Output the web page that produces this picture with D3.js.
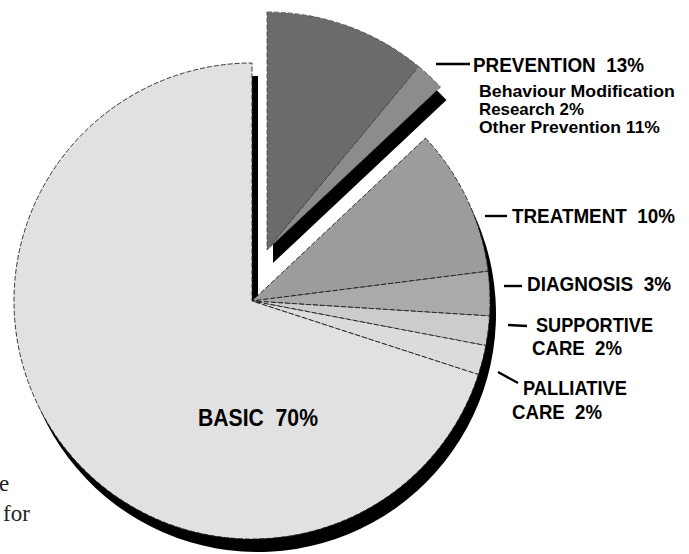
<!DOCTYPE html>
<html>
<head>
<meta charset="utf-8">
<script src="https://cdn.jsdelivr.net/npm/d3@7"></script>
<style>
  html, body { margin: 0; padding: 0; background: #fff; }
  svg { display: block; }
</style>
</head>
<body>
<svg id="chart" width="689" height="554"></svg>
<script>
// ---- data ----
const categories = ["Other Prevention", "Behaviour Modification Research", "Treatment", "Diagnosis", "Supportive Care", "Palliative Care", "Basic"];
const values = [11, 2, 10, 3, 2, 2, 70];
const groups = ["prevention", "prevention", "main", "main", "main", "main", "main"];
const fillsA = ["#646464", "#8a8a8a", "#969696", "#a9a9a9", "#c6c6c6", "#dadada", "#e8e8e8"];
const fillsB = ["#727272", "#8e8e8e", "#a2a2a2", "#ababab", "#d2d2d2", "#dddddd", "#dadada"];

const labelLines = [
  {text: "PREVENTION  13%", size: 19.5, x: 473, y: 72, w: 171},
  {text: "Behaviour Modification", size: 16, x: 479, y: 97, w: 196},
  {text: "Research 2%", size: 16, x: 479, y: 115, w: 105},
  {text: "Other Prevention 11%", size: 16, x: 479, y: 133, w: 181},
  {text: "TREATMENT  10%", size: 20.5, x: 512, y: 223, w: 163},
  {text: "DIAGNOSIS  3%", size: 20.5, x: 527, y: 291, w: 144},
  {text: "SUPPORTIVE", size: 20.5, x: 536, y: 332, w: 117},
  {text: "CARE  2%", size: 20.5, x: 532, y: 355, w: 90},
  {text: "PALLIATIVE", size: 20.5, x: 523, y: 395, w: 104},
  {text: "CARE  2%", size: 20.5, x: 512, y: 419, w: 90},
  {text: "BASIC  70%", size: 23, x: 198, y: 426, w: 120}
];
const leaders = [
  [[436, 64], [470, 64]],
  [[485, 216], [507, 216]],
  [[504, 286], [522, 286]],
  [[508, 325], [527, 326]],
  [[498, 372], [518, 383]]
];
const pageText = [
  {text: "e", x: -1, y: 491},
  {text: "for", x: 3, y: 521}
];

// ---- layout ----
const svg = d3.select("#chart");
const R = 238;
const center = [252, 301];
const explodedCenter = [267, 250];
const shadow = [6, 13];

const defs = svg.append("defs");
values.forEach((v, i) => {
  const p = defs.append("pattern")
    .attr("id", "pat" + i)
    .attr("patternUnits", "userSpaceOnUse")
    .attr("width", 2).attr("height", 2);
  p.append("rect").attr("width", 2).attr("height", 2).attr("fill", fillsA[i]);
  p.append("rect").attr("width", 1).attr("height", 1).attr("fill", fillsB[i]);
  p.append("rect").attr("x", 1).attr("y", 1).attr("width", 1).attr("height", 1).attr("fill", fillsB[i]);
});

const pie = d3.pie().sort(null).value(d => d.value).startAngle(0).endAngle(2 * Math.PI);
const data = categories.map((c, i) => ({name: c, value: values[i], group: groups[i], idx: i}));
const arcs = pie(data);
const arc = d3.arc().innerRadius(0).outerRadius(R);

function groupSpan(g) {
  const a = arcs.filter(d => d.data.group === g);
  return {startAngle: d3.min(a, d => d.startAngle), endAngle: d3.max(a, d => d.endAngle)};
}

// main pie shadow
const mainSpan = groupSpan("main");
svg.append("path")
  .attr("transform", `translate(${center[0] + shadow[0]},${center[1] + shadow[1]})`)
  .attr("d", arc(mainSpan))
  .attr("fill", "#000");

// main pie slices
const gMain = svg.append("g").attr("transform", `translate(${center[0]},${center[1]})`);
gMain.selectAll("path")
  .data(arcs.filter(d => d.data.group === "main"))
  .join("path")
  .attr("d", arc)
  .attr("fill", d => `url(#pat${d.data.idx})`)
  .attr("stroke", "#222")
  .attr("stroke-width", 0.9)
  .attr("stroke-dasharray", "5,2");

// exploded prevention shadow
const prevSpan = groupSpan("prevention");
svg.append("path")
  .attr("transform", `translate(${explodedCenter[0] + shadow[0]},${explodedCenter[1] + shadow[1]})`)
  .attr("d", arc(prevSpan))
  .attr("fill", "#000");

const gPrev = svg.append("g").attr("transform", `translate(${explodedCenter[0]},${explodedCenter[1]})`);
gPrev.selectAll("path")
  .data(arcs.filter(d => d.data.group === "prevention"))
  .join("path")
  .attr("d", arc)
  .attr("fill", d => `url(#pat${d.data.idx})`)
  .attr("stroke", "#444")
  .attr("stroke-width", 0.8)
  .attr("stroke-dasharray", "5,2");

// leader lines
svg.append("g").selectAll("line")
  .data(leaders)
  .join("line")
  .attr("x1", d => d[0][0]).attr("y1", d => d[0][1])
  .attr("x2", d => d[1][0]).attr("y2", d => d[1][1])
  .attr("stroke", "#000")
  .attr("stroke-width", 2.4);

// labels: condensed by horizontal scaling to the width seen in the reference
svg.append("g").selectAll("text")
  .data(labelLines)
  .join("text")
  .attr("x", 0).attr("y", 0)
  .attr("font-family", "'Liberation Sans', Arial, sans-serif")
  .attr("font-weight", "bold")
  .attr("font-size", d => d.size)
  .attr("fill", "#000")
  .style("white-space", "pre")
  .text(d => d.text)
  .each(function(d) {
    const natural = this.getComputedTextLength();
    const sx = natural > 0 ? d.w / natural : 1;
    d3.select(this).attr("transform", `translate(${d.x},${d.y}) scale(${sx},1)`);
  });

// cropped page text at left
svg.append("g").selectAll("text")
  .data(pageText)
  .join("text")
  .attr("x", d => d.x).attr("y", d => d.y)
  .attr("font-family", "'Liberation Serif', 'Times New Roman', serif")
  .attr("font-size", 23)
  .attr("fill", "#222")
  .text(d => d.text);
</script>
</body>
</html>
